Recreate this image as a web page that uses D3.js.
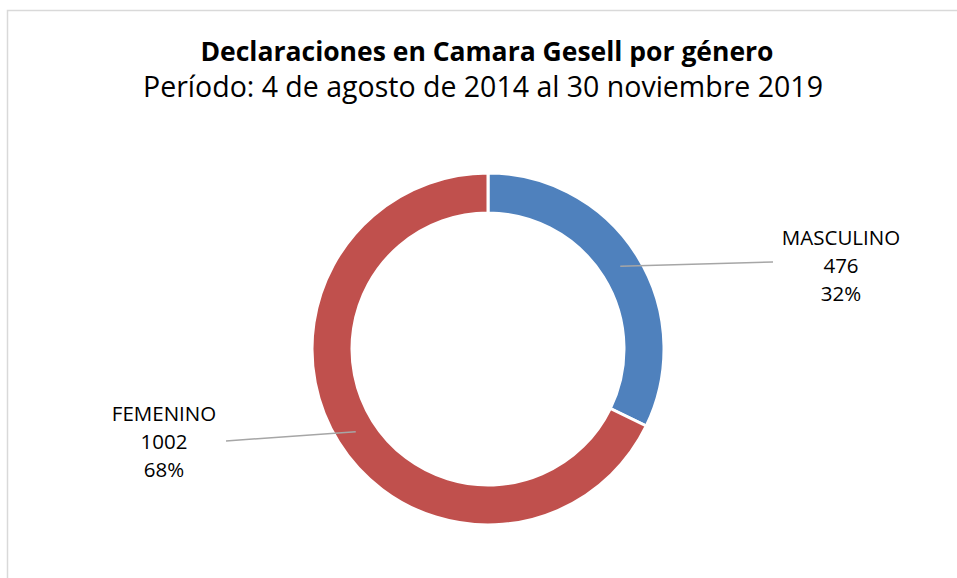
<!DOCTYPE html>
<html>
<head>
<meta charset="utf-8">
<script src="https://cdn.jsdelivr.net/npm/d3@7"></script>
<style>
  body { margin: 0; background: #fff; }
  text { font-family: "Open Sans", "Noto Sans", sans-serif; fill: #000; }
</style>
</head>
<body>
<div id="chart"></div>
<script>
// data
let categories = ["MASCULINO", "FEMENINO"]
let values = [476, 1002]
let colors = ["#4f81bd", "#c0504d"]
let title = "Declaraciones en Camara Gesell por género"
let subtitle = "Período: 4 de agosto de 2014 al 30 noviembre 2019"

let width = 957, height = 578

let svg = d3.select("#chart")
  .append("svg")
    .attr("width", width)
    .attr("height", height)

// chart frame (continues off the right / bottom edge)
svg.append("rect")
  .attr("x", 7.5)
  .attr("y", 10.5)
  .attr("width", 1000)
  .attr("height", 1000)
  .attr("fill", "none")
  .attr("stroke", "#d9d9d9")
  .attr("stroke-width", 1.5)

svg.append("text")
  .attr("x", 487)
  .attr("y", 61)
  .attr("text-anchor", "middle")
  .style("font-size", "26.5px")
  .style("font-weight", "bold")
  .text(title)

svg.append("text")
  .attr("x", 483)
  .attr("y", 97)
  .attr("text-anchor", "middle")
  .style("font-size", "28.5px")
  .text(subtitle)

// donut
let cx = 488, cy = 349
let outerR = 176, innerR = 136

let total = d3.sum(values)
let data = categories.map((c, i) => ({name: c, value: values[i], color: colors[i]}))

let pie = d3.pie()
  .value(d => d.value)
  .sort(null)

let arc = d3.arc()
  .innerRadius(innerR)
  .outerRadius(outerR)

let midArc = d3.arc()
  .innerRadius((innerR + outerR) / 2)
  .outerRadius((innerR + outerR) / 2)

let g = svg.append("g")
  .attr("transform", "translate(" + cx + "," + cy + ")")

let arcs = pie(data)

g.selectAll("path.slice")
  .data(arcs)
  .enter()
  .append("path")
    .attr("class", "slice")
    .attr("d", arc)
    .attr("fill", d => d.data.color)
    .attr("stroke", "#fff")
    .attr("stroke-width", 3)

// label anchor points (where leader lines end), relative to the page
let labelPos = {
  "MASCULINO": {lineEnd: [773, 262], x: 841, y: 245},
  "FEMENINO": {lineEnd: [226, 441], x: 164, y: 421}
}

arcs.forEach(d => {
  let c = midArc.centroid(d)
  let p = labelPos[d.data.name]
  svg.append("line")
    .attr("x1", cx + c[0])
    .attr("y1", cy + c[1])
    .attr("x2", p.lineEnd[0])
    .attr("y2", p.lineEnd[1])
    .attr("stroke", "#a6a6a6")
    .attr("stroke-width", 1.5)

  let lines = [d.data.name, d.data.value, Math.round(d.data.value / total * 100) + "%"]
  let t = svg.append("text")
    .attr("text-anchor", "middle")
    .style("font-size", "20.5px")
  lines.forEach((l, i) => {
    t.append("tspan")
      .attr("x", p.x)
      .attr("y", p.y + i * 28)
      .text(l)
  })
})
</script>
</body>
</html>
